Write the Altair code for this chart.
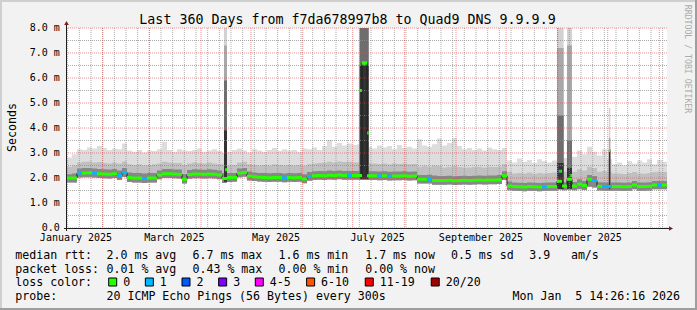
import altair as alt
import pandas as pd

# ---------------- data ----------------
START = pd.Timestamp("2025-01-10 14:26:16")
END = pd.Timestamp("2026-01-05 14:26:16")
BIN_DAYS = 3

# median rtt per 3-day bin (ms)
med = [
    2.00, 2.00, 2.20, 2.20, 2.21, 2.20, 2.17, 2.16, 2.15, 2.17,
    2.10, 2.22, 2.02, 2.00, 2.00, 1.98, 2.00, 2.00, 2.12, 2.17,
    2.17, 2.16, 2.15, 1.95, 2.14, 2.16, 2.16, 2.15, 2.16, 2.15,
    2.12, 1.98, 2.02, 2.02, 2.20, 2.22, 2.08, 2.05, 2.03, 2.02,
    2.01, 2.02, 2.02, 2.00, 2.02, 2.01, 2.02, 1.96, 2.06, 2.09,
    2.10, 2.09, 2.11, 2.10, 2.12, 2.10, 2.10, 2.10, 2.10, 6.60,
    2.09, 2.09, 2.08, 2.09, 2.07, 2.08, 2.08, 2.09, 2.07, 2.08,
    1.95, 1.95, 1.95, 1.90, 1.90, 1.90, 1.91, 1.89, 1.90, 1.91,
    1.90, 1.91, 1.92, 1.91, 1.92, 1.92, 1.93, 2.09, 1.68, 1.66,
    1.65, 1.64, 1.66, 1.65, 1.64, 1.65, 1.66, 1.66, 1.87, 1.68,
    1.95, 1.68, 1.75, 1.70, 1.95, 1.90, 1.67, 1.66, 1.66, 1.66,
    1.66, 1.65, 1.66, 1.72, 1.66, 1.66, 1.67, 1.72, 1.72, 1.72,
]
# loss count per bin (index into loss colours)
loss = [
    0, 0, 1, 0, 0, 1, 0, 0, 0, 0,
    1, 1, 0, 0, 0, 1, 0, 0, 0, 0,
    0, 0, 0, 0, 0, 0, 0, 0, 0, 0,
    0, 0, 0, 0, 0, 0, 0, 0, 0, 0,
    0, 0, 0, 1, 0, 0, 0, 0, 1, 0,
    0, 0, 0, 0, 0, 0, 1, 0, 0, 0,
    0, 0, 1, 0, 1, 0, 0, 0, 0, 0,
    0, 0, 1, 0, 0, 0, 0, 0, 0, 0,
    0, 0, 0, 0, 0, 0, 0, 0, 0, 0,
    0, 0, 0, 0, 0, 1, 0, 0, 0, 0,
    0, 0, 0, 0, 0, 1, 0, 1, 1, 0,
    0, 0, 0, 0, 0, 0, 0, 0, 1, 0,
]
# smoke: top of outer (light) band
hi = [
    2.82, 2.95, 3.15, 3.12, 3.22, 3.18, 3.28, 3.20, 3.12, 3.18,
    3.15, 3.38, 3.10, 3.05, 3.12, 3.02, 3.10, 3.08, 3.15, 3.45,
    3.12, 3.05, 3.15, 3.10, 3.08, 3.12, 3.18, 3.05, 3.10, 3.15,
    3.08, 3.00, 3.05, 3.12, 3.18, 3.10, 3.02, 3.15, 3.10, 3.05,
    3.12, 3.20, 3.08, 3.15, 3.10, 3.12, 3.05, 3.18, 3.15, 3.22,
    3.12, 3.28, 3.52, 3.25, 3.40, 3.30, 3.38, 3.32, 3.35, 3.30,
    3.25, 3.18, 3.30, 3.22, 3.28, 3.15, 3.32, 3.20, 3.25, 3.18,
    3.55, 3.30, 3.25, 3.35, 3.58, 3.30, 3.40, 3.60, 3.28, 3.15,
    3.20, 3.12, 3.18, 3.10, 3.22, 3.15, 3.12, 3.20, 2.70, 2.62,
    2.78, 2.65, 2.72, 2.60, 2.75, 2.68, 2.62, 2.70, 2.95, 2.80,
    3.00, 2.85, 3.10, 2.95, 3.25, 3.05, 2.90, 3.15, 2.75, 2.55,
    2.62, 2.50, 2.68, 2.58, 2.70, 2.62, 2.75, 2.55, 2.72, 2.65,
]
# smoke: top of middle band
md = [
    2.45, 2.50, 2.62, 2.65, 2.66, 2.62, 2.64, 2.60, 2.58, 2.62,
    2.58, 2.66, 2.55, 2.52, 2.55, 2.50, 2.52, 2.55, 2.58, 2.65,
    2.62, 2.60, 2.60, 2.52, 2.58, 2.62, 2.60, 2.58, 2.62, 2.58,
    2.55, 2.55, 2.50, 2.52, 2.62, 2.65, 2.55, 2.52, 2.50, 2.52,
    2.50, 2.55, 2.52, 2.50, 2.52, 2.50, 2.52, 2.48, 2.55, 2.58,
    2.60, 2.62, 2.65, 2.62, 2.66, 2.64, 2.65, 2.62, 2.62, 2.60,
    2.58, 2.58, 2.56, 2.58, 2.55, 2.58, 2.56, 2.58, 2.55, 2.56,
    2.45, 2.48, 2.45, 2.50, 2.48, 2.42, 2.45, 2.48, 2.44, 2.42,
    2.42, 2.44, 2.45, 2.42, 2.45, 2.44, 2.45, 2.55, 2.25, 2.18,
    2.20, 2.18, 2.22, 2.17, 2.20, 2.18, 2.20, 2.22, 2.40, 2.25,
    2.45, 2.25, 2.35, 2.30, 2.45, 2.40, 2.25, 2.28, 2.25, 2.18,
    2.18, 2.16, 2.20, 2.24, 2.18, 2.17, 2.20, 2.24, 2.25, 2.24,
]
# smoke: top of inner dark band
dk = [
    2.15, 2.18, 2.38, 2.40, 2.40, 2.38, 2.36, 2.35, 2.34, 2.36,
    2.30, 2.40, 2.22, 2.20, 2.20, 2.18, 2.20, 2.20, 2.30, 2.36,
    2.36, 2.34, 2.34, 2.16, 2.32, 2.35, 2.34, 2.33, 2.35, 2.33,
    2.30, 2.20, 2.20, 2.20, 2.38, 2.40, 2.26, 2.22, 2.20, 2.20,
    2.19, 2.20, 2.20, 2.18, 2.20, 2.19, 2.20, 2.15, 2.24, 2.27,
    2.28, 2.27, 2.30, 2.28, 2.30, 2.28, 2.28, 2.28, 2.28, 2.28,
    2.27, 2.27, 2.26, 2.27, 2.25, 2.26, 2.26, 2.27, 2.25, 2.26,
    2.12, 2.12, 2.13, 2.10, 2.08, 2.08, 2.09, 2.07, 2.08, 2.09,
    2.08, 2.09, 2.10, 2.09, 2.10, 2.10, 2.12, 2.27, 1.86, 1.82,
    1.81, 1.80, 1.82, 1.81, 1.80, 1.81, 1.82, 1.82, 2.05, 1.84,
    2.10, 1.84, 1.95, 1.88, 2.12, 2.08, 1.83, 1.82, 1.82, 1.82,
    1.82, 1.81, 1.82, 1.88, 1.82, 1.82, 1.83, 1.88, 1.88, 1.88,
]
# smoke: bottom edge
lo = [
    1.82, 1.82, 2.02, 2.03, 2.03, 2.02, 2.00, 1.99, 1.98, 2.00,
    1.92, 2.04, 1.84, 1.82, 1.82, 1.80, 1.82, 1.82, 1.95, 2.00,
    2.00, 1.99, 1.98, 1.78, 1.97, 1.99, 1.99, 1.98, 1.99, 1.98,
    1.95, 1.80, 1.84, 1.85, 2.03, 2.05, 1.90, 1.88, 1.86, 1.85,
    1.84, 1.85, 1.85, 1.83, 1.85, 1.84, 1.85, 1.79, 1.89, 1.92,
    1.93, 1.92, 1.94, 1.93, 1.95, 1.93, 1.93, 1.93, 1.93, 1.93,
    1.92, 1.92, 1.91, 1.92, 1.90, 1.91, 1.91, 1.92, 1.90, 1.91,
    1.78, 1.78, 1.78, 1.73, 1.73, 1.73, 1.74, 1.72, 1.73, 1.74,
    1.73, 1.74, 1.75, 1.74, 1.75, 1.75, 1.76, 1.92, 1.51, 1.49,
    1.48, 1.47, 1.49, 1.48, 1.47, 1.48, 1.49, 1.49, 1.60, 1.51,
    1.60, 1.51, 1.55, 1.52, 1.65, 1.62, 1.50, 1.49, 1.49, 1.49,
    1.49, 1.48, 1.49, 1.55, 1.49, 1.49, 1.50, 1.55, 1.55, 1.55,
]

# latency spikes
spike_start = ["2025-04-14T19:00:00", "2025-07-05T05:00:00", "2025-10-31T14:00:00",
               "2025-11-06T14:00:00", "2025-12-01T17:00:00"]
spike_end = ["2025-04-16T14:00:00", "2025-07-10T14:00:00", "2025-11-04T14:00:00",
             "2025-11-09T14:00:00", "2025-12-02T14:00:00"]
spike_light = [8.0, 8.0, 8.0, 8.0, 4.8]
spike_mid = [7.3, 8.0, 7.2, 7.3, 3.6]
spike_dark = [5.9, 8.0, 4.5, 3.5, 3.13]
spike_core = [3.9, 6.5, 2.6, 2.4, 3.13]
spike_base = [1.85, 1.95, 1.55, 1.55, 1.55]

# median values inside the spikes
smed_start = ["2025-04-15T12:00:00", "2025-07-05T05:00:00", "2025-07-06T12:00:00",
              "2025-07-09T18:00:00", "2025-10-31T14:00:00", "2025-11-01T14:00:00",
              "2025-11-02T14:00:00", "2025-11-07T14:00:00", "2025-11-08T14:00:00",
              "2025-12-01T17:00:00"]
smed_end = ["2025-04-16T14:00:00", "2025-07-06T12:00:00", "2025-07-09T00:00:00",
            "2025-07-10T14:00:00", "2025-11-01T14:00:00", "2025-11-02T14:00:00",
            "2025-11-03T14:00:00", "2025-11-08T14:00:00", "2025-11-09T14:00:00",
            "2025-12-02T14:00:00"]
smed_val = [2.33, 5.5, 6.6, 3.8, 1.87, 2.27, 2.27, 1.95, 2.10, 3.10]
smed_loss = [0, 0, 0, 0, 0, 1, 0, 0, 0, 0]

loss_labels = ["0", "1", "2", "3", "4-5", "6-10", "11-19", "20/20"]
loss_colors = ["#26ff00", "#00b8ff", "#0059ff", "#7e00ff", "#ff00ff", "#ff5500", "#ff0000", "#a10000"]

y_major = [0, 1, 2, 3, 4, 5, 6, 7, 8]
y_labels = ["0.0", "1.0 m", "2.0 m", "3.0 m", "4.0 m", "5.0 m", "6.0 m", "7.0 m", "8.0 m"]
y_minor = [0.5, 1.5, 2.5, 3.5, 4.5, 5.5, 6.5, 7.5]
month_lines = ["2025-02-01", "2025-03-01", "2025-04-01", "2025-05-01", "2025-06-01", "2025-07-01",
               "2025-08-01", "2025-09-01", "2025-10-01", "2025-11-01", "2025-12-01", "2026-01-01"]
x_label_dates = ["2025-01-16", "2025-03-16", "2025-05-16", "2025-07-16", "2025-09-16", "2025-11-16"]

title_text = "Last 360 Days from f7da678997b8 to Quad9 DNS 9.9.9.9"
rtt_stats = ["2.0 ms avg", "6.7 ms max", "1.6 ms min", "1.7 ms now", "0.5 ms sd", "3.9", "am/s"]
loss_stats = ["0.01 % avg", "0.43 % max", "0.00 % min", "0.00 % now"]
probe_text = "20 ICMP Echo Pings (56 Bytes) every 300s"
date_text = "Mon Jan \u00a05 14:26:16 2026"

# ---------------- tables ----------------
fmt = "%Y-%m-%dT%H:%M:%S"
t0 = [START + pd.Timedelta(days=BIN_DAYS * k) for k in range(len(med))]
bins = pd.DataFrame({
    "t0": [t.strftime(fmt) for t in t0],
    "t1": [(t + pd.Timedelta(days=BIN_DAYS)).strftime(fmt) for t in t0],
    "med": med, "hi": hi, "md": md, "dk": dk, "lo": lo, "loss": loss,
})
stepline = pd.DataFrame({
    "t": list(bins["t0"]) + [END.strftime(fmt)],
    "v": med + [med[-1]],
})
spikes = pd.DataFrame({
    "t0": spike_start, "t1": spike_end, "light": spike_light, "mid": spike_mid,
    "dark": spike_dark, "core": spike_core, "base": spike_base,
})
smed = pd.DataFrame({"t0": smed_start, "t1": smed_end, "v": smed_val, "loss": smed_loss})
weeks = pd.DataFrame({"d": [d.strftime(fmt) for d in pd.date_range("2025-01-11", "2026-01-05", freq="7D")]})
months = pd.DataFrame({"d": [m + "T00:00:00" for m in month_lines]})
ymaj = pd.DataFrame({"y": y_major, "lab": y_labels})
ymin = pd.DataFrame({"y": y_minor})
xlab = pd.DataFrame({"d": [d + "T00:00:00" for d in x_label_dates]})
one = pd.DataFrame({"a": [0]})

# ---------------- scales / style ----------------
FONT = "DejaVu Sans Mono"
OX, OY = 67, 28  # plot origin inside the 697x310 canvas
x_scale = alt.Scale(domain=[
    alt.DateTime(year=2025, month=1, date=10, hours=14, minutes=26, seconds=16),
    alt.DateTime(year=2026, month=1, date=5, hours=14, minutes=26, seconds=16)])
y_scale = alt.Scale(domain=[0, 8], nice=False, zero=False)
loss_scale = alt.Scale(domain=list(range(len(loss_colors))), range=loss_colors)

layers = []

# smoke bands
def band(field_lo, field_hi, color, data):
    return alt.Chart(data).mark_rect(color=color, clip=True).encode(
        x=alt.X("t0:T", scale=x_scale, axis=None),
        x2="t1:T",
        y=alt.Y(f"{field_lo}:Q", scale=y_scale, axis=None),
        y2=f"{field_hi}:Q",
    )

layers.append(band("lo", "hi", "#dddddd", bins))
layers.append(band("lo", "md", "#c0c0c0", bins))
layers.append(band("lo", "dk", "#878787", bins))
layers.append(band("base", "light", "#d2d2d2", spikes))
layers.append(band("base", "mid", "#a8a8a8", spikes))
layers.append(band("base", "dark", "#6e6e6e", spikes))
layers.append(band("base", "core", "#333333", spikes))

# grid
layers.append(alt.Chart(weeks).mark_rule(color="#8f8f8f", opacity=0.75, strokeDash=[1, 1], strokeWidth=1).encode(
    x=alt.X("d:T", scale=x_scale, axis=None)))
layers.append(alt.Chart(ymin).mark_rule(color="#8f8f8f", opacity=0.75, strokeDash=[1, 1], strokeWidth=1).encode(
    y=alt.Y("y:Q", scale=y_scale, axis=None)))
layers.append(alt.Chart(months).mark_rule(color="#de4f4f", opacity=0.6, strokeDash=[1, 1], strokeWidth=1).encode(
    x=alt.X("d:T", scale=x_scale, axis=None)))
layers.append(alt.Chart(ymaj).mark_rule(color="#de4f4f", opacity=0.6, strokeDash=[1, 1], strokeWidth=1).encode(
    y=alt.Y("y:Q", scale=y_scale, axis=None)))

# median line
layers.append(alt.Chart(stepline).mark_line(interpolate="step-after", color="#1f1f1f", strokeWidth=1, clip=True).encode(
    x=alt.X("t:T", scale=x_scale, axis=None), y=alt.Y("v:Q", scale=y_scale, axis=None)))
layers.append(alt.Chart(bins).mark_rule(strokeWidth=3, clip=True).encode(
    x=alt.X("t0:T", scale=x_scale, axis=None), x2="t1:T",
    y=alt.Y("med:Q", scale=y_scale, axis=None),
    color=alt.Color("loss:N", scale=loss_scale, legend=None)))
layers.append(alt.Chart(smed).mark_rule(strokeWidth=3, clip=True).encode(
    x=alt.X("t0:T", scale=x_scale, axis=None), x2="t1:T",
    y=alt.Y("v:Q", scale=y_scale, axis=None),
    color=alt.Color("loss:N", scale=loss_scale, legend=None)))

# axis labels (through the scales)
layers.append(alt.Chart(xlab).mark_text(font=FONT, fontSize=10, align="center", baseline="alphabetic",
                                        color="#000000").encode(
    x=alt.X("d:T", scale=x_scale, axis=None), y=alt.value(240.8 - OY),
    text=alt.Text("d:T", format="%B %Y")))
layers.append(alt.Chart(ymaj).mark_text(font=FONT, fontSize=10, align="right", baseline="middle",
                                        color="#000000").encode(
    y=alt.Y("y:Q", scale=y_scale, axis=None), x=alt.value(59.8 - OX), text="lab:N"))

# axes lines + arrows
def hline(x1, x2, y, color, w=1):
    return alt.Chart(one).mark_rule(color=color, strokeWidth=w).encode(
        x=alt.value(x1 - OX), x2=alt.value(x2 - OX), y=alt.value(y - OY))

def vline(x, y1, y2, color, w=1):
    return alt.Chart(one).mark_rule(color=color, strokeWidth=w).encode(
        x=alt.value(x - OX), y=alt.value(y1 - OY), y2=alt.value(y2 - OY))

layers.append(hline(64, 670, 228.5, "#1f1f1f"))
layers.append(vline(66.5, 231, 22, "#1f1f1f"))
layers.append(alt.Chart(one).mark_point(shape="triangle-up", filled=True, size=22, color="#801f1f", opacity=1).encode(
    x=alt.value(66.5 - OX), y=alt.value(23 - OY)))
layers.append(alt.Chart(one).mark_point(shape="triangle-right", filled=True, size=22, color="#801f1f", opacity=1).encode(
    x=alt.value(671 - OX), y=alt.value(228.5 - OY)))

# frame shading
layers.append(hline(0, 697, 1, "#cfcfcf", 2))
layers.append(vline(1, 0, 310, "#cfcfcf", 2))
layers.append(hline(0, 697, 309, "#9e9e9e", 2))
layers.append(vline(696, 0, 310, "#9e9e9e", 2))

# texts
def txt(s, px, py, size=11.6, align="left", baseline="alphabetic", angle=0, color="#000000"):
    return alt.Chart(one).mark_text(font=FONT, fontSize=size, align=align, baseline=baseline,
                                    angle=angle, color=color).encode(
        x=alt.value(px - OX), y=alt.value(py - OY), text=alt.value(s))

layers.append(txt(title_text, 347.5, 23.6, size=13.3, align="center"))
layers.append(txt("Seconds", 15.5, 127.5, angle=270, align="center"))
layers.append(txt("RRDTOOL / TOBI OETIKER", 684.5, 59, size=8.2, angle=90, align="center", color="#ababab"))

cols = [106.5, 192.5, 278.5, 365.2, 450.9]
L1, L2, L3, L4 = 259.0, 272.7, 286.4, 300.1
layers.append(txt("median rtt:", 15.3, L1))
for s, cx in zip(rtt_stats[:5], cols):
    layers.append(txt(s, cx, L1))
layers.append(txt(rtt_stats[5], 529.2, L1))
layers.append(txt(rtt_stats[6], 570.9, L1))
layers.append(txt("packet loss:", 15.3, L2))
for s, cx in zip(loss_stats, cols):
    layers.append(txt(s, cx, L2))
layers.append(txt("loss color:", 15.3, L3))
lx = 123.2
for lab, col in zip(loss_labels, loss_colors):
    bx = lx - 14.5
    layers.append(alt.Chart(one).mark_rect(color=col, stroke="#000000", strokeWidth=1).encode(
        x=alt.value(bx - OX), x2=alt.value(bx + 8 - OX), y=alt.value(278 - OY), y2=alt.value(286 - OY)))
    layers.append(txt(lab, lx, L3))
    lx += (len(lab) + 4) * 7.33
layers.append(txt("probe:", 15.3, L4))
layers.append(txt(probe_text, 106.5, L4))
layers.append(txt(date_text, 512.5, L4))

chart = alt.layer(*layers).properties(
    width=600, height=200,
    autosize=alt.AutoSizeParams(type="none"),
    padding={"left": OX, "top": OY, "right": 697 - 600 - OX, "bottom": 310 - 200 - OY},
    background="#f2f2f2",
).configure_view(fill="white", stroke=None)

chart.save("out.html", embed_options={"renderer": "svg", "actions": False})
